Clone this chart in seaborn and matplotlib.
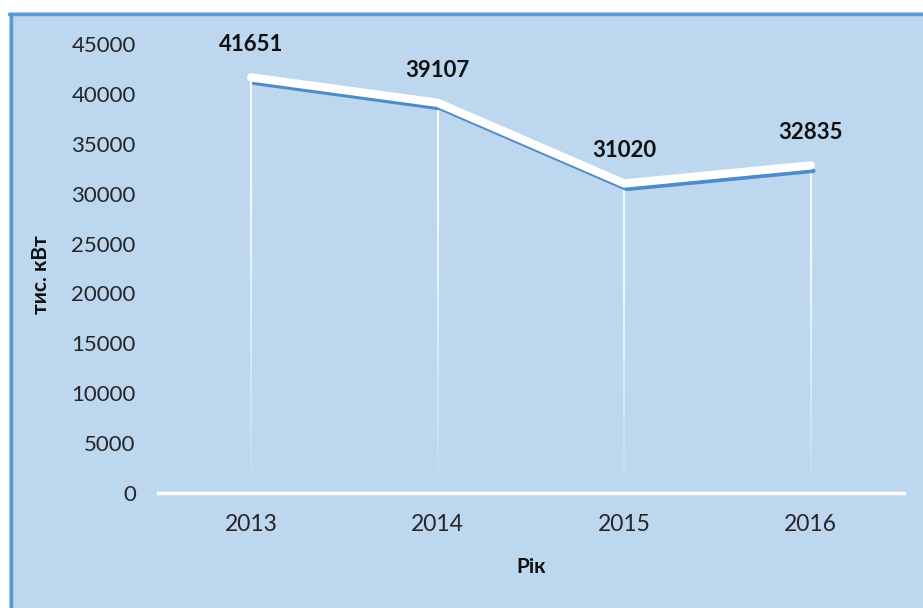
import matplotlib
matplotlib.use("Agg")
import matplotlib.pyplot as plt
import matplotlib.patheffects as pe
from matplotlib.patches import Rectangle
from matplotlib.lines import Line2D
import seaborn as sns
import pandas as pd

years = ["2013", "2014", "2015", "2016"]
values = [41651, 39107, 31020, 32835]
yticks = [0, 5000, 10000, 15000, 20000, 25000, 30000, 35000, 40000, 45000]

BG = "#BDD7EE"
BORDER = "#5B9BD5"
SHADOW = "#4F8ACB"
TXT = "#262626"

sns.set_theme(style="white")
plt.rcParams["font.family"] = ["Lato", "DejaVu Sans"]

W, H = 923, 608
fig = plt.figure(figsize=(W / 100, H / 100), dpi=100, facecolor="white")

# panel background and border
fig.patches.append(Rectangle((9 / W, 0), 1 - 9 / W, 1 - 12 / H, transform=fig.transFigure,
                             facecolor=BG, edgecolor="none", zorder=-10))
fig.lines.append(Line2D([10.5 / W, 10.5 / W], [0, 1 - 13.5 / H], transform=fig.transFigure,
                        color=BORDER, lw=2.5, zorder=-9))
fig.lines.append(Line2D([9 / W, 1], [1 - 13.5 / H, 1 - 13.5 / H], transform=fig.transFigure,
                        color=BORDER, lw=2.5, zorder=-9))

ax = fig.add_axes([158 / W, 1 - 493 / H, (904 - 158) / W, (493 - 44) / H])
ax.set_zorder(5)
ax.set_facecolor("none")
ax.patch.set_alpha(0)

df = pd.DataFrame({"year": years, "value": values})
xs = list(range(len(years)))

# drop lines (fading towards the axis)
for x, v in zip(xs, values):
    n = 30
    for i in range(n):
        y0 = v * i / n
        y1 = v * (i + 1) / n
        a = min(1.0, 0.05 + 1.3 * (i / n))
        ax.plot([x, x], [y0, y1], color="white", lw=1.3, alpha=a, solid_capstyle="butt", zorder=2)

sns.lineplot(data=df, x="year", y="value", ax=ax, color="white", lw=6, sort=False,
             zorder=4, solid_capstyle="round", solid_joinstyle="round")
line = ax.lines[-1]
line.set_path_effects([
    pe.SimpleLineShadow(offset=(2, -4), shadow_color=SHADOW, alpha=1, rho=1, linewidth=3),
    pe.Normal(),
])

for x, v in zip(xs, values):
    ax.annotate(f"{v}", (x, v), xytext=(0, 16), textcoords="offset points", ha="center",
                va="bottom", fontsize=16, fontweight="bold", color="#111111")

ax.set_xlim(-0.5, len(years) - 0.5)
ax.set_ylim(0, 45000)
ax.set_yticks(yticks)
ax.set_yticklabels([str(t) for t in yticks])
ax.tick_params(axis="y", labelsize=16, colors=TXT, length=0, pad=16)
ax.tick_params(axis="x", labelsize=16.5, colors=TXT, length=0, pad=15)
for s in ["top", "right", "left"]:
    ax.spines[s].set_visible(False)
ax.spines["bottom"].set_color("white")
ax.spines["bottom"].set_linewidth(2.5)
ax.grid(False)

ax.set_xlabel("Рік", fontsize=15, fontweight="bold", color="#111111")
ax.set_ylabel("тис. кВт", fontsize=15, fontweight="bold", color="#111111")
ax.xaxis.set_label_coords(0.5, -(557 - 493) / (493 - 44))
ax.yaxis.set_label_coords((51 - 158) / (904 - 158), (493 - 275) / (493 - 44))

fig.savefig("out.png", dpi=100, facecolor="white")
